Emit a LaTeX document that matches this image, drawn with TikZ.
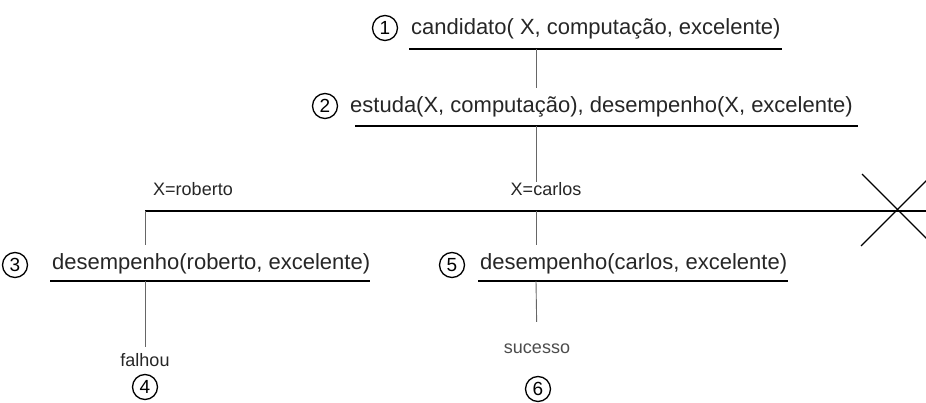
\documentclass[tikz,border=0pt]{standalone}
\usepackage{fontspec}
\setmainfont{Liberation Sans}
\begin{document}
\begin{tikzpicture}[x=1pt,y=-1pt,
  lbl/.style={font=\fontsize{22}{25}\selectfont, inner sep=0pt, anchor=west, text=black!85},
  small/.style={font=\fontsize{18}{20}\selectfont, inner sep=0pt, text=black!85},
  num/.style={circle, draw, line width=1.3pt, minimum size=25pt, inner sep=0pt, font=\fontsize{19}{21}\selectfont},
  uline/.style={line width=1.2pt},
  conn/.style={draw=black!60, line width=0.9pt},
  hline/.style={line width=1.1pt}]
\useasboundingbox (0,0) rectangle (926,403);
% row 1
\node[num] (c1) at (385,28) {1};
\node[lbl] (t1) at (411,29) {candidato( X, computação, excelente)};
\coordinate (u1a) at (409,49); \coordinate (u1b) at (782,49);
\draw[uline] (u1a) -- (u1b);
% row 2
\node[num] (c2) at (325,106) {2};
\node[lbl] (t2) at (350,107) {estuda(X, computação), desempenho(X, excelente)};
\coordinate (u2a) at (355,126); \coordinate (u2b) at (858,126);
\draw[uline] (u2a) -- (u2b);
\coordinate (v1a) at (536,49); \coordinate (v1b) at (536,88);
\draw[conn] (v1a) -- (v1b);
% branch line
\coordinate (hA) at (145,211); \coordinate (hM) at (536,211); \coordinate (hB) at (926,211);
\node[small] (l1) at (193,189) {X=roberto};
\node[small] (l2) at (546,189) {X=carlos};
\coordinate (v2a) at (536,126);
\draw[conn] (v2a) -- (v2a |- l2.north);
\draw[hline] (hA) -- (hB);
% cross
\begin{scope}
\clip (0,0) rectangle (926,403);
\coordinate (xa) at (862,174); \coordinate (xb) at (934,246);
\coordinate (xc) at (861,246); \coordinate (xd) at (933,174);
\draw[line width=1.1pt] (xa) -- (xb);
\draw[line width=1.1pt] (xc) -- (xd);
\end{scope}
% row 3 left
\coordinate (v3b) at (145,245);
\draw[conn] (hA) -- (v3b);
\node[num] (c3) at (15,265) {3};
\node[lbl] (t3) at (52,264) {desempenho(roberto, excelente)};
\coordinate (u3a) at (50,281); \coordinate (u3b) at (370,281);
\draw[uline] (u3a) -- (u3b);
\coordinate (v4a) at (145,281);
\node[small] (f) at (145,360) {falhou};
\draw[conn, shorten >=6pt] (v4a) -- (f.north);
\node[num] (c4) at (145,387) {4};
% row 3 middle
\coordinate (v5b) at (536,245);
\draw[conn] (hM) -- (v5b);
\node[num] (c5) at (452,265) {5};
\node[lbl] (t5) at (480,264) {desempenho(carlos, excelente)};
\coordinate (u5a) at (478,281); \coordinate (u5b) at (788,281);
\draw[uline] (u5a) -- (u5b);
\coordinate (v6a) at (536,281);
\node[small, text=black!70] (s) at (537,349) {sucesso};
\draw[conn, shorten >=22pt] (v6a) -- (s.north);
\node[num] (c6) at (538,389) {6};
\end{tikzpicture}
\end{document}
